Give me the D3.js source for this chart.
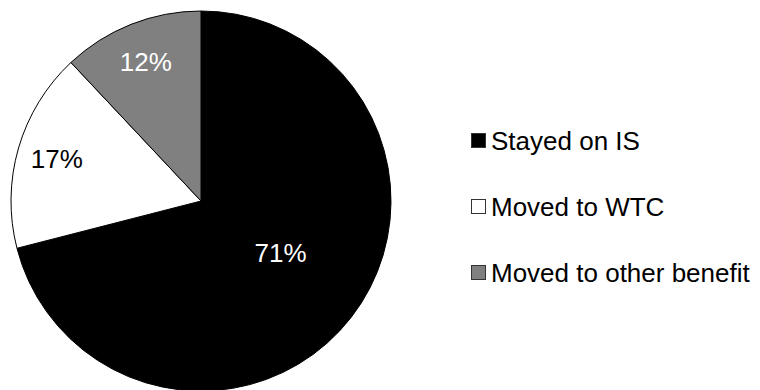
<!DOCTYPE html>
<html>
<head>
<meta charset="utf-8">
<script src="https://cdn.jsdelivr.net/npm/d3@7"></script>
<style>
  html, body { margin: 0; padding: 0; background: #fff; }
  svg { display: block; font-family: "Liberation Sans", Arial, sans-serif; }
</style>
</head>
<body>
<svg id="chart" width="760" height="390"></svg>
<script>
// Outcome shares for people who were on IS
const categories = ["Stayed on IS", "Moved to WTC", "Moved to other benefit"];
const values = [71, 17, 12];
const colors = ["#000000", "#ffffff", "#808080"];
const labelColors = ["#ffffff", "#000000", "#ffffff"];

const svg = d3.select("#chart");
const cx = 201, cy = 201, R = 190;

const pie = d3.pie().sort(null).value(d => d.value);
const arcs = pie(categories.map((c, i) => ({ name: c, value: values[i], i })));
const arc = d3.arc().innerRadius(0).outerRadius(R);

const g = svg.append("g").attr("transform", `translate(${cx},${cy})`);

g.selectAll("path")
  .data(arcs)
  .join("path")
  .attr("d", arc)
  .attr("fill", d => colors[d.data.i])
  .attr("stroke", "#000")
  .attr("stroke-width", 1);

// Large slice label sits mid-radius, smaller ones further out
g.selectAll("text.pct")
  .data(arcs)
  .join("text")
  .attr("class", "pct")
  .attr("transform", d => {
    const span = d.endAngle - d.startAngle;
    const r = span > Math.PI ? R * 0.5 : R * 0.79;
    const a = span > Math.PI ? (d.startAngle + d.endAngle) / 2 - 0.08 : (d.startAngle + d.endAngle) / 2;
    return `translate(${r * Math.sin(a)},${-r * Math.cos(a)})`;
  })
  .attr("text-anchor", "middle")
  .attr("dy", "0.35em")
  .attr("font-size", 26)
  .attr("fill", d => labelColors[d.data.i])
  .text(d => d.data.value + "%");

// Legend
const legend = svg.append("g").attr("transform", "translate(471,140.5)");
const rows = legend.selectAll("g")
  .data(categories)
  .join("g")
  .attr("transform", (d, i) => `translate(0,${i * 66})`);

rows.append("rect")
  .attr("x", 0.5)
  .attr("y", -7)
  .attr("width", 14)
  .attr("height", 14)
  .attr("fill", (d, i) => colors[i])
  .attr("stroke", "#333")
  .attr("stroke-width", 1);

rows.append("text")
  .attr("x", 20)
  .attr("dy", "0.36em")
  .attr("font-size", 26)
  .attr("fill", "#000")
  .text(d => d);
</script>
</body>
</html>
